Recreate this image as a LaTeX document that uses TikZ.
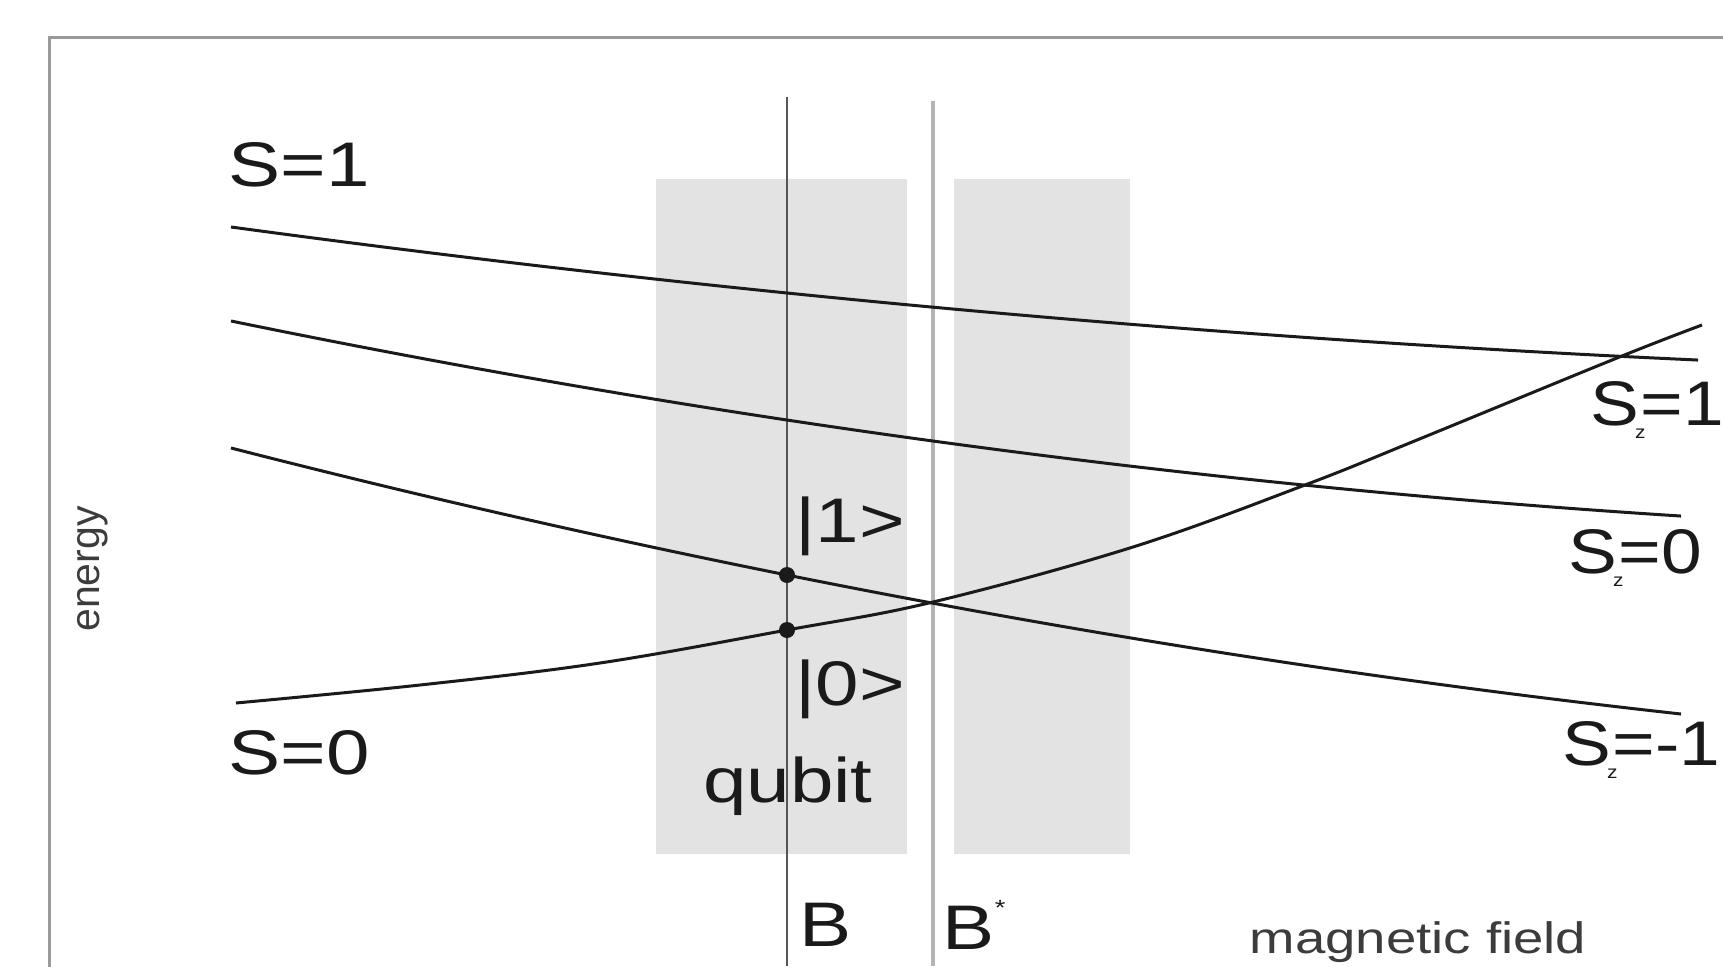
\documentclass[tikz,border=0pt]{standalone}
\usepackage{fontspec}
\setmainfont{Liberation Sans}[FakeStretch=1.24]
\newfontfamily\plainsans{Liberation Sans}
\newfontfamily\szsans{Liberation Sans}[FakeStretch=1.16]
\definecolor{boxgray}{HTML}{E3E3E3}
\definecolor{framegray}{HTML}{9A9A9A}
\definecolor{bline}{HTML}{555555}
\definecolor{bstarline}{HTML}{B4B4B4}
\definecolor{ink}{HTML}{1A1A1A}
\tikzset{
  level/.style={line width=3pt, ink},
  biglabel/.style={inner sep=0pt, text=ink, font=\fontsize{63}{63}\selectfont},
  szlabel/.style={inner sep=0pt, text=ink, anchor=west, font=\szsans\fontsize{63}{63}\selectfont},
  smalllabel/.style={inner sep=0pt, text=ink!85, font=\fontsize{44}{44}\selectfont},
  band/.style={fill=boxgray, draw=none},
  statedot/.style={circle, fill=ink, inner sep=0pt, minimum size=16pt}
}
\newcommand{\Sz}[1]{S\hspace{-0.06em}\raisebox{-0.2em}{\fontsize{18}{18}\selectfont z}\hspace{-0.08em}=#1}
\begin{document}
\begin{tikzpicture}[x=1pt,y=-1pt]
\useasboundingbox (0,0) rectangle (1723,966);
\clip (0,0) rectangle (1723,966);
% frame
\draw[framegray, line width=3pt] (49.5,37.5) rectangle (1800,1100);
% bands
\fill[band] (656,179) rectangle (907,854);
\fill[band] (954,179) rectangle (1130,854);
% field lines
\coordinate (btop) at (787,97);
\coordinate (bbot) at (787,966);
\coordinate (bstop) at (933,101);
\coordinate (bsbot) at (933,966);
\draw[bline, line width=2.4pt] (btop) -- (bbot);
\draw[bstarline, line width=4.5pt] (bstop) -- (bsbot);
% energy levels
\draw[level] plot[domain=231:1698, samples=60] (\x, {227 + 0.1358*(\x-231) - 0.3075*((\x-231)/100)^2});
\draw[level] plot[domain=231:1681, samples=60] (\x, {321 + 0.2052*(\x-231) - 0.4875*((\x-231)/100)^2});
\draw[level] plot[domain=231:1681, samples=60] (\x, {448 + 0.2564*(\x-231) - 0.503*((\x-231)/100)^2});
\draw[level, smooth, tension=0.6] plot coordinates {(236,703) (420,685) (600,663) (787,630) (933,602) (1133,547) (1305,485) (1417,440) (1617,358) (1702,325)};
% states
\node[statedot] (one) at (787,575) {};
\node[statedot] (zero) at (787,630) {};
% labels
\node[biglabel] (s1) at (299,165) {S=1};
\node[biglabel] (s0) at (299,753) {S=0};
\node[biglabel] (ket1) at (850,526) {|1>};
\node[biglabel] (ket0) at (850,689) {|0>};
\node[biglabel] (qubit) at (788,786) {qubit};
\node[biglabel] (B) at (826,925) {B};
\node[biglabel] (Bs) at (974,925) {B\raisebox{0.55em}{\fontsize{22}{22}\selectfont *}};
\node[smalllabel, anchor=base] (mf) at (1418,953) {magnetic field};
\node[inner sep=0pt, text=ink!85, font=\plainsans\fontsize{41}{41}\selectfont, rotate=90] (en) at (93,569) {energy};
\node[szlabel] (sz1) at (1590,410) {\Sz{1}};
\node[szlabel] (sz0) at (1568,558) {\Sz{0}};
\node[szlabel] (szm) at (1562,750) {\Sz{-1}};
\end{tikzpicture}
\end{document}
